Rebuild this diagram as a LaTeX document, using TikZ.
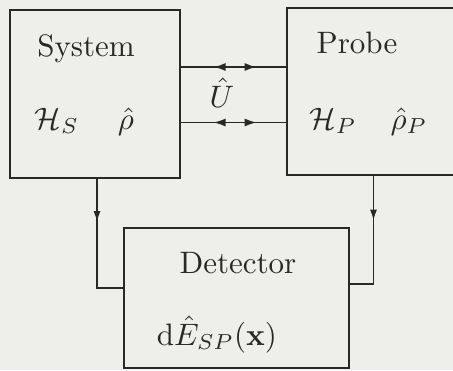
\documentclass[tikz,border=0pt]{standalone}
\usetikzlibrary{arrows.meta,decorations.markings}
\definecolor{paper}{RGB}{238,238,234}
\definecolor{ink}{RGB}{40,40,40}
\newcommand{\szx}[1]{\scalebox{3.1}{#1}}
\begin{document}
\begin{tikzpicture}[x=1pt,y=-1pt,
  box/.style={draw=ink,line width=1.8pt,rectangle,inner sep=0pt},
  lbl/.style={anchor=base,text=ink,inner sep=0pt},
  conn/.style={draw=ink,line width=1.7pt}]
\fill[paper] (0,0) rectangle (453,370);
\useasboundingbox (0,0) rectangle (453,370);
\node[box,minimum width=170pt,minimum height=168pt] (sys) at (95,94) {};
\node[box,minimum width=173pt,minimum height=167pt] (probe) at (373.5,91.5) {};
\node[box,minimum width=225pt,minimum height=140pt] (det) at (236.5,298) {};
% texts
\node[lbl] (tsys) at (86,56) {\szx{System}};
\node[lbl] (tprobe) at (357,53) {\szx{Probe}};
\node[lbl] (hs) at (57,129) {\szx{$\mathcal{H}_S$}};
\node[lbl] (rho) at (126,129) {\szx{$\hat\rho$}};
\node[lbl] (hp) at (333,129) {\szx{$\mathcal{H}_P$}};
\node[lbl] (rhop) at (409,129) {\szx{$\hat\rho_P$}};
\node[lbl] (u) at (222,107) {\szx{$\hat U$}};
\node[lbl] (tdet) at (238,273) {\szx{Detector}};
\node[lbl] (dE) at (217,345) {\szx{$\mathrm{d}\hat E_{SP}(\mathbf{x})$}};
% horizontal double connectors
\tikzset{hmark/.style={postaction={decorate},decoration={markings,
  mark=at position 0.31 with {\arrowreversed{Latex[length=12pt,width=8pt]}},
  mark=at position 0.72 with {\arrow{Latex[length=12pt,width=8pt]}}}}}
\draw[conn,hmark] ([yshift=27pt]sys.east) -- ([yshift=24.5pt]probe.west);
\draw[conn,hmark] ([yshift=-28.5pt]sys.east) -- ([yshift=-31pt]probe.west);
% vertical connectors
\draw[conn,postaction={decorate},decoration={markings,
  mark=at position 0.32 with {\arrow{Latex[length=11pt,width=7pt]}}}]
  ([xshift=2pt]sys.south) |- ([yshift=10pt]det.west);
\draw[conn,postaction={decorate},decoration={markings,
  mark=at position 0.34 with {\arrow{Latex[length=11pt,width=7pt]}}}]
  (probe.south) |- ([yshift=14pt]det.east);
\end{tikzpicture}
\end{document}
